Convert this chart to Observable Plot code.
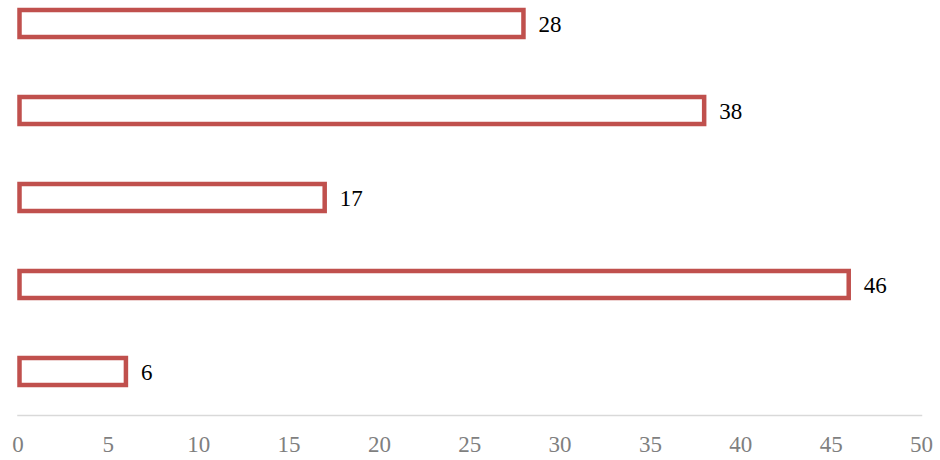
<!DOCTYPE html>
<html>
<head>
<meta charset="utf-8">
<script src="https://cdn.jsdelivr.net/npm/d3@7"></script>
<script src="https://cdn.jsdelivr.net/npm/@observablehq/plot@0.6"></script>
<style>
  html, body { margin: 0; padding: 0; background: #fff; }
  #chart { width: 940px; height: 460px; }
</style>
</head>
<body>
<div id="chart"></div>
<script>
const categories = ["A", "B", "C", "D", "E"];
const values = [28, 38, 17, 46, 6];
const xTicks = [0, 5, 10, 15, 20, 25, 30, 35, 40, 45, 50];

const data = categories.map((c, i) => ({category: c, value: values[i]}));

const chart = Plot.plot({
  width: 940,
  height: 460,
  marginLeft: 17.5,
  marginRight: 19,
  marginTop: 0,
  marginBottom: 45,
  style: {fontFamily: "'Liberation Serif', 'Times New Roman', serif", background: "#fff"},
  x: {domain: [0, 50], ticks: xTicks},
  y: {domain: categories, range: [8, 386.6], paddingInner: 0.686, paddingOuter: 0, axis: null},
  marks: [
    Plot.frame({anchor: "bottom", stroke: "#d9d9d9", strokeWidth: 1.5, strokeOpacity: 1}),
    Plot.axisX({ticks: xTicks, tickSize: 0, tickPadding: 20, fontSize: 23, fill: "#7f7f7f", label: null}),
    Plot.barX(data, {x: "value", y: "category", insetLeft: 2, fill: "#fff", stroke: "#C0504D", strokeWidth: 4.5}),
    Plot.text(data, {x: "value", y: "category", text: d => String(d.value), textAnchor: "start", dx: 14.5, dy: 1, fontSize: 23, fill: "#000"})
  ]
});
document.getElementById("chart").appendChild(chart);
</script>
</body>
</html>
